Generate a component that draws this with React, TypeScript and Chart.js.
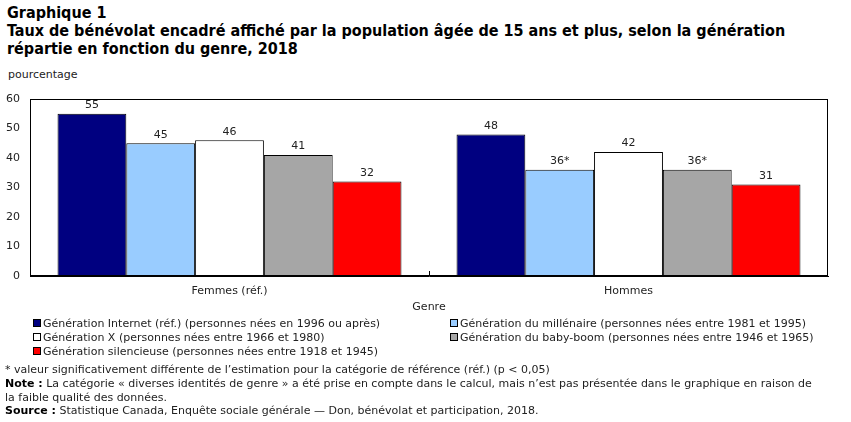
import React, { useEffect, useRef } from "react";
import { Chart, registerables } from "chart.js";
Chart.register(...registerables);

const categories = ["Femmes (réf.)", "Hommes"];
const seriesNames = [
  "Génération Internet (réf.) (personnes nées en 1996 ou après)",
  "Génération du millénaire (personnes nées entre 1981 et 1995)",
  "Génération X (personnes nées entre 1966 et 1980)",
  "Génération du baby-boom (personnes nées entre 1946 et 1965)",
  "Génération silencieuse (personnes nées entre 1918 et 1945)",
];
const seriesColors = ["#000080", "#99CCFF", "#FFFFFF", "#A6A6A6", "#FF0000"];
const internet = [55, 48];
const millenaire = [45, 36];
const genX = [46, 42];
const babyBoom = [41, 36];
const silencieuse = [32, 31];
const seriesValues = [internet, millenaire, genX, babyBoom, silencieuse];
const valueLabels = [
  ["55", "48"],
  ["45", "36*"],
  ["46", "42"],
  ["41", "36*"],
  ["32", "31"],
];
const yMin = 0;
const yMax = 60;
const yStep = 10;

const FONT = "'DejaVu Sans', Verdana, sans-serif";
const TITLE_FONT = "'DejaVu Sans Condensed', 'DejaVu Sans', sans-serif";

const overlayPlugin = {
  id: "overlay",
  afterDatasetsDraw(chart: any) {
    const ctx = chart.ctx;
    ctx.save();
    ctx.font = "11px " + FONT;
    ctx.fillStyle = "#222";
    ctx.textAlign = "center";
    ctx.textBaseline = "bottom";
    chart.data.datasets.forEach((ds: any, i: number) => {
      const meta = chart.getDatasetMeta(i);
      meta.data.forEach((bar: any, j: number) => {
        ctx.fillText(valueLabels[i][j], bar.x, bar.y - 3);
      });
    });
    const a = chart.chartArea;
    ctx.strokeStyle = "#000";
    ctx.lineWidth = 1;
    ctx.strokeRect(Math.round(a.left) + 0.5, Math.round(a.top) + 0.5, Math.round(a.right - a.left) - 1, Math.round(a.bottom - a.top) - 1);
    const xs = chart.scales.x;
    for (let k = 0; k < categories.length - 1; k++) {
      const bx = Math.round((xs.getPixelForValue(k) + xs.getPixelForValue(k + 1)) / 2) + 0.5;
      ctx.beginPath();
      ctx.moveTo(bx, a.bottom);
      ctx.lineTo(bx, a.bottom - 5);
      ctx.stroke();
    }
    ctx.restore();
  },
};

function ChartCanvas() {
  const ref = useRef<HTMLCanvasElement>(null);
  useEffect(() => {
    if (!ref.current) return;
    const chart = new Chart(ref.current, {
      type: "bar",
      data: {
        labels: categories,
        datasets: seriesValues.map((vals, i) => ({
          label: seriesNames[i],
          data: vals,
          backgroundColor: seriesColors[i],
          borderColor: "#000",
          borderWidth: 1,
          borderSkipped: false,
          barPercentage: 1,
          categoryPercentage: 0.862,
        })),
      },
      options: {
        animation: false,
        responsive: false,
        maintainAspectRatio: false,
        layout: { padding: { top: 39, right: 23, bottom: 0, left: 0 } },
        plugins: { legend: { display: false }, tooltip: { enabled: false }, title: { display: false } },
        scales: {
          x: {
            grid: { display: false, drawTicks: false },
            border: { display: true, color: "#000" },
            ticks: { color: "#222", font: { family: FONT, size: 11 }, padding: 9 },
            afterFit: (s: any) => { s.height = 26; },
          },
          y: {
            min: yMin,
            max: yMax,
            grid: { display: false, drawTicks: false },
            border: { display: true, color: "#000" },
            ticks: { stepSize: yStep, color: "#222", font: { family: FONT, size: 11 }, padding: 10 },
            afterFit: (s: any) => { s.width = 30; },
          },
        },
      },
      plugins: [overlayPlugin],
    });
    return () => chart.destroy();
  }, []);
  return <canvas ref={ref} width={851} height={242} style={{ position: "absolute", left: 0, top: 60, width: 851, height: 242 }} />;
}

const txt = (top: number, left: number, extra: any = {}) => ({
  position: "absolute" as const,
  top,
  left,
  whiteSpace: "nowrap" as const,
  fontFamily: FONT,
  fontSize: 11,
  lineHeight: "14px",
  color: "#222",
  ...extra,
});

const legendOrder = [
  [0, 1],
  [2, 3],
  [4],
];

export default function App() {
  return (
    <div style={{ position: "fixed", left: 0, top: 0, width: 851, height: 422, background: "#fff", overflow: "hidden" }}>
      <div style={txt(4, 7, { fontFamily: TITLE_FONT, fontWeight: "bold", fontSize: 16, lineHeight: "18px", color: "#000" })}>
        Graphique 1<br />
        Taux de bénévolat encadré affiché par la population  âgée de 15 ans et plus, selon la génération<br />
        répartie en fonction  du genre, 2018
      </div>
      <div style={txt(68, 8)}>pourcentage</div>
      <ChartCanvas />
      <div style={txt(300, 429, { transform: "translateX(-50%)" })}>Genre</div>
      {legendOrder.map((row, r) =>
        row.map((si, c) => (
          <div key={si} style={txt(317 + r * 14, c === 0 ? 33 : 450)}>
            <span style={{ display: "inline-block", width: 6, height: 6, border: "1px solid #000", background: seriesColors[si], marginRight: 2, verticalAlign: "middle", position: "relative", top: -1 }} />
            {seriesNames[si]}
          </div>
        ))
      )}
      <div style={txt(363, 5)}>* valeur significativement différente de l’estimation pour la catégorie de référence (réf.) (p &lt; 0,05)</div>
      <div style={txt(377, 5)}>
        <b style={{ color: "#000" }}>Note :</b> La catégorie « diverses identités de genre » a été prise en compte dans le calcul, mais n’est pas présentée dans le graphique en raison de<br />
        la faible qualité des données.
      </div>
      <div style={txt(404, 5)}>
        <b style={{ color: "#000" }}>Source :</b> Statistique  Canada, Enquête sociale générale — Don, bénévolat et participation, 2018.
      </div>
    </div>
  );
}
